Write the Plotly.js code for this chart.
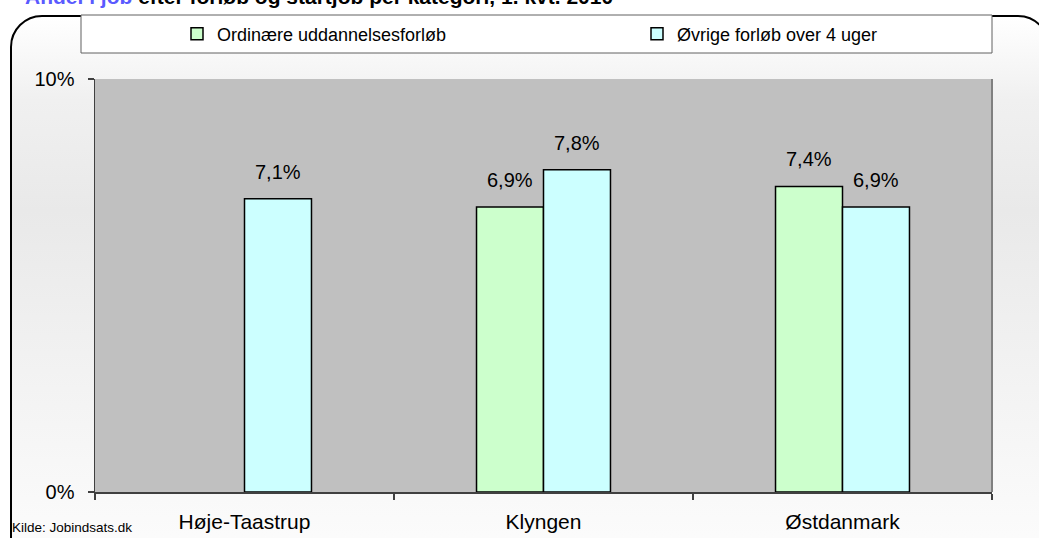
<!DOCTYPE html>
<html>
<head>
<meta charset="utf-8">
<script src="https://cdn.plot.ly/plotly-3.0.1.min.js"></script>
<style>
  html, body { margin:0; padding:0; width:1039px; height:538px; overflow:hidden; background:#ffffff; font-family:"Liberation Sans", Arial, sans-serif; }
  #title { position:absolute; left:25px; top:-15px; font-size:21px; font-weight:bold; white-space:nowrap; color:#000; }
  #frame { position:absolute; left:10px; top:15px; width:1040px; height:560px; border:2px solid #000; border-radius:32px;
           background:linear-gradient(to bottom, #ffffff 0%, #f0f0f0 15%, #e9e9e9 35%, #f4f4f4 70%, #fdfdfd 100%); box-sizing:border-box; }
  #chart { position:absolute; left:0; top:0; width:1039px; height:538px; }
</style>
</head>
<body>
<div id="title"><span style="color:#5a5aff">Andel i job</span> efter forløb og startjob per kategori, 1. kvt. 2010</div>
<div id="frame"></div>
<div id="chart"></div>
<script>
const categories = ["Høje-Taastrup", "Klyngen", "Østdanmark"];
const seriesNames = ["Ordinære uddannelsesforløb", "Øvrige forløb over 4 uger"];
const ordinaere = [null, 0.069, 0.074];
const oevrige = [0.071, 0.078, 0.069];
const yTickVals = [0, 0.1];
const sourceText = "Kilde: Jobindsats.dk";

const FONT = "Liberation Sans, Arial, sans-serif";
const labelFont = {family:FONT, size:20, color:"#000"};

const traces = [
  {type:"bar", name:seriesNames[0], x:categories, y:ordinaere, legend:"legend",
   marker:{color:"#ccffcc", line:{color:"#000", width:1.5}}, hoverinfo:"skip"},
  {type:"bar", name:seriesNames[1], x:categories, y:oevrige, legend:"legend2",
   marker:{color:"#ccffff", line:{color:"#000", width:1.5}}, hoverinfo:"skip"}
];

// data labels placed through the axes (category index +/- half bar offset, value)
const fmt = v => (v*100).toFixed(1).replace(".", ",") + "%";
const labelAnns = [];
[[ordinaere, -0.112], [oevrige, 0.112]].forEach(([vals, off]) => {
  vals.forEach((v, i) => {
    if (v === null) return;
    labelAnns.push({xref:"x", yref:"y", x:i + off, y:v, text:fmt(v), showarrow:false,
                    yanchor:"bottom", yshift:14, font:labelFont});
  });
});

const legendFont = {family:FONT, size:18, color:"#000"};
const layout = {
  width:1039, height:538,
  margin:{l:95, r:47, t:79, b:46, autoexpand:false},
  paper_bgcolor:"rgba(0,0,0,0)",
  plot_bgcolor:"#c0c0c0",
  separators:",.",
  barmode:"group",
  bargap:0.552,
  bargroupgap:0,
  showlegend:true,
  legend:{orientation:"h", x:(177-95)/897, xanchor:"left", y:1+(79-34)/413, yanchor:"middle",
          bgcolor:"rgba(0,0,0,0)", font:legendFont},
  legend2:{orientation:"h", x:(637-95)/897, xanchor:"left", y:1+(79-34)/413, yanchor:"middle",
          bgcolor:"rgba(0,0,0,0)", font:legendFont},
  xaxis:{type:"category", showgrid:false, showline:true, linecolor:"#404040", linewidth:1.5,
         ticks:"outside", tickson:"boundaries", ticklen:6, tickcolor:"#404040", tickwidth:1.5,
         ticklabelstandoff:10,
         tickfont:{family:FONT, size:21, color:"#000"}, fixedrange:true},
  yaxis:{range:[0,0.1], tickvals:yTickVals, tickformat:".0%", showgrid:false, zeroline:false,
         showline:true, linecolor:"#404040", linewidth:1.5, ticks:"outside", ticklen:6, tickcolor:"#404040", tickwidth:1.5,
         ticklabelstandoff:9,
         tickfont:{family:FONT, size:20, color:"#000"}, fixedrange:true},
  shapes:[
    {type:"rect", xref:"paper", yref:"paper", x0:-0.0156, x1:1.0, y0:1+(79-53)/413, y1:1+(79-15)/413,
     line:{color:"#606060", width:1}, fillcolor:"#ffffff", layer:"below"},
    {type:"line", xref:"paper", yref:"paper", x0:1, x1:1, y0:0, y1:1, line:{color:"#808080", width:2}}
  ],
  annotations:[
    {text:sourceText, xref:"paper", yref:"paper", x:(10-95)/897, xanchor:"left", y:-(527-492)/413, yanchor:"middle",
     showarrow:false, font:{family:FONT, size:13.5, color:"#000"}}
  ].concat(labelAnns)
};

Plotly.newPlot("chart", traces, layout, {staticPlot:true, displayModeBar:false});
</script>
</body>
</html>
